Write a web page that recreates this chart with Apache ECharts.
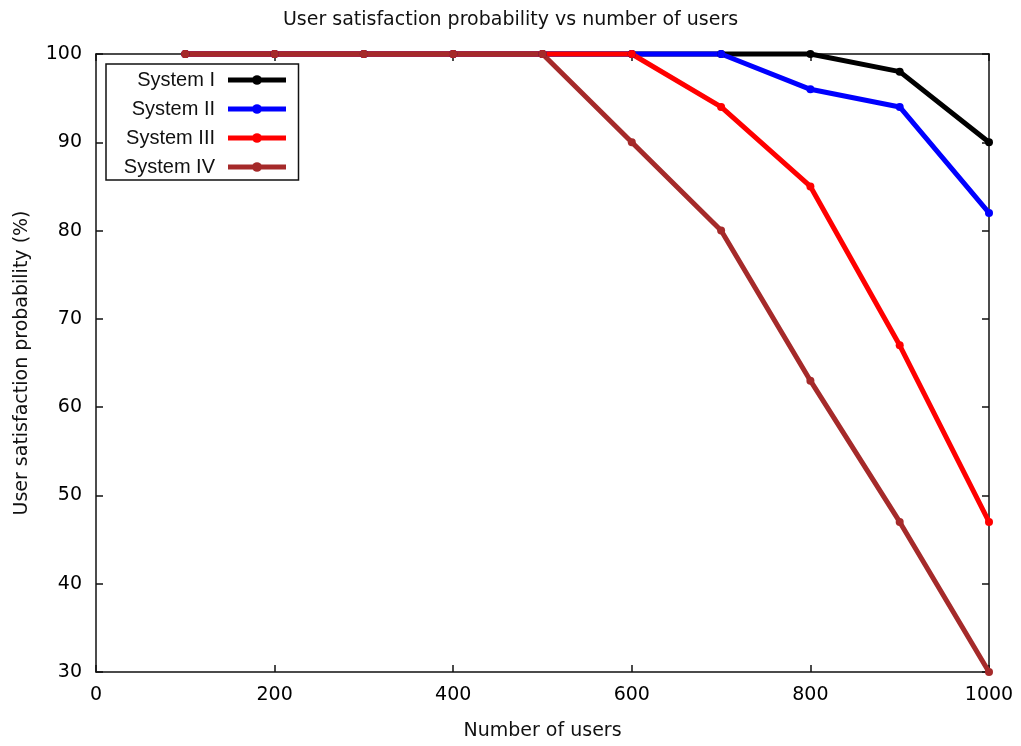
<!DOCTYPE html>
<html>
<head>
<meta charset="utf-8">
<script src="https://cdn.jsdelivr.net/npm/echarts@6/dist/echarts.min.js"></script>
<style>
  html, body { margin: 0; padding: 0; background: #fff; }
  #chart { width: 1021px; height: 746px; }
</style>
</head>
<body>
<div id="chart"></div>
<script>
// Number of users on the x axis
const users = [100, 200, 300, 400, 500, 600, 700, 800, 900, 1000];

// Satisfaction probability (%) per system
const systemI   = [100, 100, 100, 100, 100, 100, 100, 100, 98, 90];
const systemII  = [100, 100, 100, 100, 100, 100, 100, 96, 94, 82];
const systemIII = [100, 100, 100, 100, 100, 100, 94, 85, 67, 47];
const systemIV  = [100, 100, 100, 100, 100, 90, 80, 63, 47, 30];

const seriesNames = ['System I', 'System II', 'System III', 'System IV'];
const seriesColors = ['#000000', '#0000ff', '#ff0000', '#a52a2a'];
const seriesValues = [systemI, systemII, systemIII, systemIV];

const xTicks = { min: 0, max: 1000, interval: 200 };
const yTicks = { min: 30, max: 100, interval: 10 };

const tickFont = { fontFamily: 'DejaVu Sans', fontSize: 19, color: '#000' };
const nameFont = { fontFamily: 'DejaVu Sans', fontSize: 19, color: '#111' };

function frameAxis(base, position, labels) {
  return Object.assign({}, base, {
    position: position,
    axisLine: { show: true, onZero: false, lineStyle: { color: '#111', width: 1.5 } },
    axisTick: { show: true, inside: true, length: 7, lineStyle: { color: '#111', width: 1.5 } },
    axisLabel: Object.assign({ show: labels, margin: 14, formatter: function (v) { return String(v); } }, tickFont),
    splitLine: { show: false }
  });
}

const chart = echarts.init(document.getElementById('chart'), null, { renderer: 'canvas' });

chart.setOption({
  animation: false,
  backgroundColor: '#fff',
  title: {
    text: 'User satisfaction probability vs number of users',
    left: 'center',
    top: 6,
    textStyle: { fontFamily: 'DejaVu Sans', fontSize: 19, fontWeight: 'normal', color: '#111' }
  },
  grid: { left: 96, right: 32, top: 54, bottom: 72 },
  legend: {
    orient: 'vertical',
    left: 106,
    top: 64,
    align: 'right',
    padding: [5, 10, 2, 10],
    itemGap: 7,
    itemWidth: 58,
    itemHeight: 12,
    borderColor: '#111',
    borderWidth: 1.5,
    backgroundColor: '#fff',
    lineStyle: { width: 5 },
    textStyle: {
      fontFamily: 'Liberation Sans', fontSize: 20, color: '#111',
      width: 99, align: 'right', lineHeight: 22, padding: [0, 8, 0, 0]
    },
    data: seriesNames
  },
  xAxis: [
    frameAxis(Object.assign({ type: 'value', name: 'Number of users', nameLocation: 'middle', nameGap: 50,
      nameTextStyle: nameFont }, xTicks), 'bottom', true),
    frameAxis(Object.assign({ type: 'value' }, xTicks), 'top', false)
  ],
  yAxis: [
    frameAxis(Object.assign({ type: 'value', name: 'User satisfaction probability (%)', nameLocation: 'middle', nameGap: 64,
      nameTextStyle: nameFont }, yTicks), 'left', true),
    frameAxis(Object.assign({ type: 'value' }, yTicks), 'right', false)
  ],
  series: seriesNames.map(function (name, i) {
    return {
      name: name,
      type: 'line',
      xAxisIndex: 0,
      yAxisIndex: 0,
      data: users.map(function (u, j) { return [u, seriesValues[i][j]]; }),
      symbol: 'circle',
      symbolSize: 8,
      showSymbol: true,
      clip: false,
      itemStyle: { color: seriesColors[i] },
      lineStyle: { color: seriesColors[i], width: 5 }
    };
  })
});
</script>
</body>
</html>
